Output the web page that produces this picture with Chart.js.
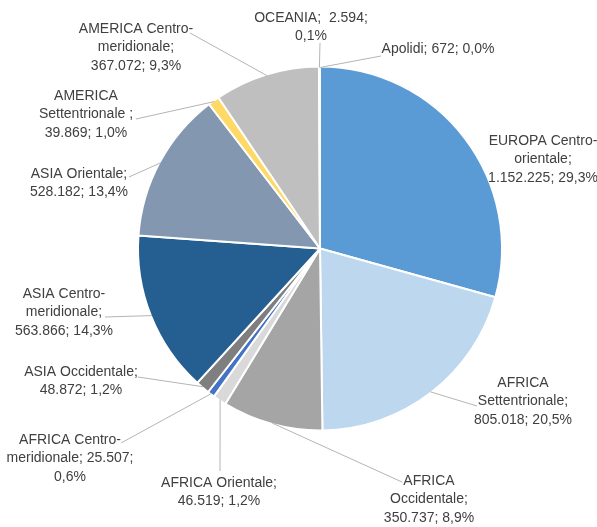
<!DOCTYPE html>
<html>
<head>
<meta charset="utf-8">
<script src="https://cdn.jsdelivr.net/npm/chart.js@4/dist/chart.umd.min.js"></script>
<style>
  html, body { margin:0; padding:0; background:#fff; }
  #wrap { width:597px; height:527px; }
</style>
</head>
<body>
<div id="wrap"><canvas id="pie" width="597" height="527"></canvas></div>
<script>
// data, in slice order (clockwise from 12 o'clock)
const categories = [
  'EUROPA Centro-orientale', 'AFRICA Settentrionale', 'AFRICA Occidentale', 'AFRICA Orientale',
  'AFRICA Centro-meridionale', 'ASIA Occidentale', 'ASIA Centro-meridionale', 'ASIA Orientale',
  'AMERICA Settentrionale', 'AMERICA Centro-meridionale', 'OCEANIA', 'Apolidi'
];
const values = [1152225, 805018, 350737, 46519, 25507, 48872, 563866, 528182, 39869, 367072, 2594, 672];
const colors = ['#5B9BD5', '#BDD7EE', '#A5A5A5', '#D9D9D9', '#4472C4', '#7F7F7F',
                '#255E91', '#8497B0', '#FFD966', '#BFBFBF', '#9DC3E6', '#F4B183'];

// label text as wrapped in the original ({v} = value, {p} = percent)
const labelLines = [
  ['EUROPA Centro-', 'orientale;', '{v}; {p}'],
  ['AFRICA', 'Settentrionale;', '{v}; {p}'],
  ['AFRICA', 'Occidentale;', '{v}; {p}'],
  ['AFRICA Orientale;', '{v}; {p}'],
  ['AFRICA Centro-', 'meridionale; {v};', '{p}'],
  ['ASIA Occidentale;', '{v}; {p}'],
  ['ASIA Centro-', 'meridionale;', '{v}; {p}'],
  ['ASIA Orientale;', '{v}; {p}'],
  ['AMERICA', 'Settentrionale ;', '{v}; {p}'],
  ['AMERICA Centro-', 'meridionale;', '{v}; {p}'],
  ['OCEANIA;  {v};', '{p}'],
  ['Apolidi; {v}; {p}']
];

// label layout: [center x, first line y], leader end point (null = no leader)
const labelPos = [[543,141],[523,383],[429,481],[219,483],[70,440],[81,372],
                  [64,294],[79,174],[86,96],[136,29],[311,18],[438,49]];
const leaderEnd = [null,[477,406],[402,482],[220,471],[121,443],[138,377],
                   [105,317],[129,177],[136,119],[190,33],[320,43],[381,56]];

const total = values.reduce((s, v) => s + v, 0);
const fmtNum = v => String(v).replace(/\B(?=(\d{3})+(?!\d))/g, '.');
const fmtPct = v => (v / total * 100).toFixed(1).replace('.', ',') + '%';

const outsideLabels = {
  id: 'outsideLabels',
  afterDatasetsDraw(chart) {
    const ctx = chart.ctx;
    const meta = chart.getDatasetMeta(0);
    ctx.save();
    // leader lines
    ctx.strokeStyle = '#B4B4B4';
    ctx.lineWidth = 1;
    meta.data.forEach((arc, i) => {
      if (!leaderEnd[i]) return;
      const p = arc.getProps(['x','y','startAngle','endAngle','outerRadius'], true);
      const mid = (p.startAngle + p.endAngle) / 2;
      const r = p.outerRadius - 1;
      ctx.beginPath();
      ctx.moveTo(p.x + Math.cos(mid) * r, p.y + Math.sin(mid) * r);
      ctx.lineTo(leaderEnd[i][0], leaderEnd[i][1]);
      ctx.stroke();
    });
    // label text
    ctx.fillStyle = '#404040';
    ctx.font = '14px "Liberation Sans", Arial, sans-serif';
    ctx.textAlign = 'center';
    ctx.textBaseline = 'middle';
    labelLines.forEach((lines, i) => {
      lines.forEach((ln, k) => {
        const txt = ln.replace('{v}', fmtNum(values[i])).replace('{p}', fmtPct(values[i]));
        ctx.fillText(txt, labelPos[i][0], labelPos[i][1] + k * 18.5);
      });
    });
    ctx.restore();
  }
};

new Chart(document.getElementById('pie').getContext('2d'), {
  type: 'pie',
  data: {
    labels: categories,
    datasets: [{ data: values, backgroundColor: colors, borderColor: '#ffffff', borderWidth: 2 }]
  },
  options: {
    responsive: false,
    animation: false,
    radius: 182,
    layout: { padding: { left: 63, right: 20, top: 20, bottom: 50 } },
    plugins: { legend: { display: false }, tooltip: { enabled: false } }
  },
  plugins: [outsideLabels]
});
</script>
</body>
</html>
